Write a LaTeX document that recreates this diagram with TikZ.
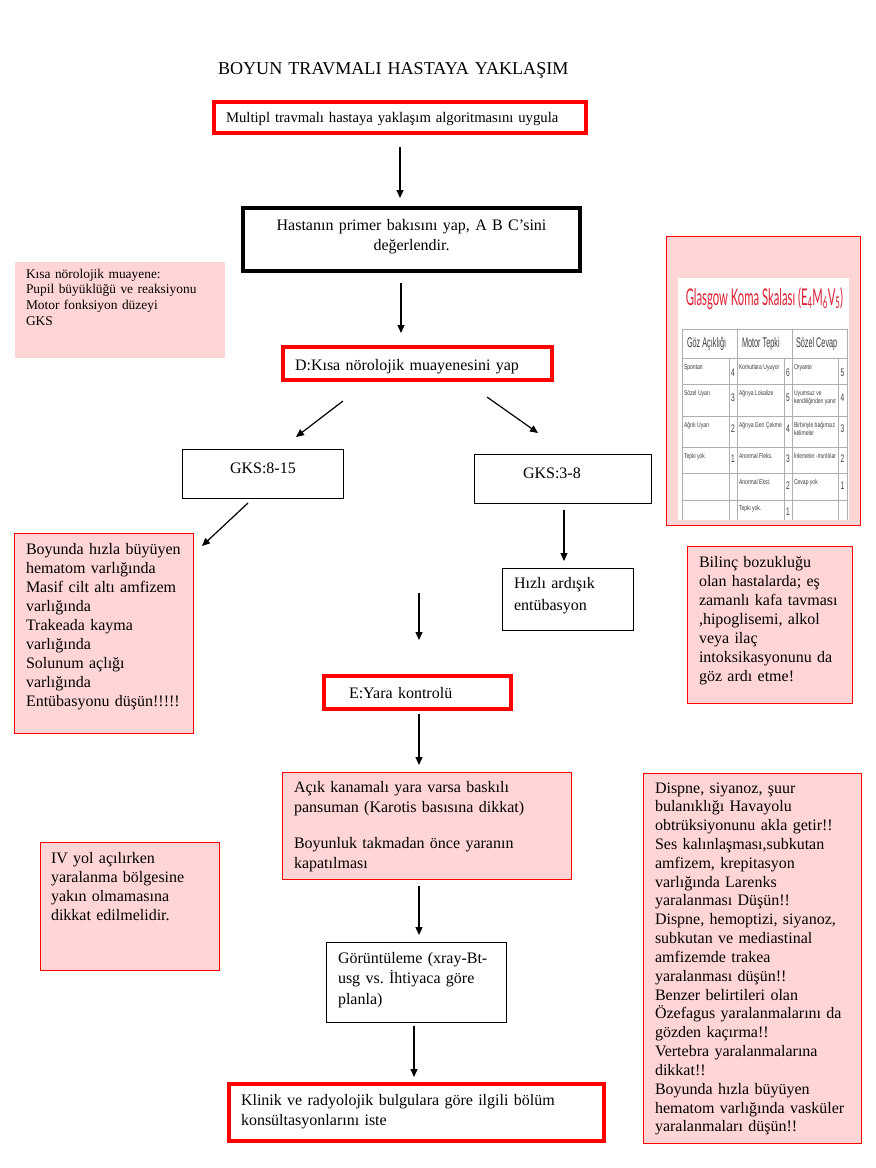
\documentclass[tikz,border=0pt]{standalone}
\usepackage{fontspec}
\setmainfont{Liberation Serif}
\newfontfamily\tabsans{Liberation Sans}
\newfontfamily\gtitlefont{Lato}
\usetikzlibrary{arrows.meta,calc}
\setlength\parindent{0pt}
\frenchspacing
\definecolor{pinkf}{RGB}{255,213,213}
\definecolor{boxred}{RGB}{255,0,0}
\definecolor{gline}{RGB}{175,175,175}
\definecolor{gtred}{RGB}{222,32,52}
\definecolor{tgray}{RGB}{60,60,60}
\newcommand\gcell[1]{\scalebox{0.72}[1]{\tabsans\fontsize{7}{8.5}\selectfont\begin{tabular}[t]{@{}l@{}}#1\end{tabular}}}
\newcommand\ghead[1]{\scalebox{0.52}[1]{\tabsans\fontsize{14}{14}\selectfont #1}}
\newcommand\gnum[1]{\scalebox{0.6}[1]{\tabsans\fontsize{11}{11}\selectfont #1}}
\begin{document}
\begin{tikzpicture}[x=1pt,y=-1pt,
  box/.style={rectangle, inner sep=0pt, outer sep=0pt},
  redthick/.style={box, draw=boxred, line width=4pt},
  blackthick/.style={box, draw=black, line width=4pt},
  thinbox/.style={box, draw=black, line width=1pt},
  pinkbox/.style={box, fill=pinkf, draw=boxred, line width=1pt},
  pinkplain/.style={box, fill=pinkf},
  txt/.style={inner sep=0pt, outer sep=0pt, anchor=base west, align=left, text width=380pt, font=\fontsize{16}{19}\selectfont},
  gt/.style={inner sep=0pt, outer sep=0pt, anchor=base west, text=tgray},
  gn/.style={inner sep=0pt, outer sep=0pt, anchor=center, text=tgray},
  arr/.style={-{Triangle[length=8pt,width=7pt]}, line width=1.2pt},
  gl/.style={draw=gline, line width=0.8pt}]
\useasboundingbox (0,0) rectangle (876,1168);
\fill[white] (0,0) rectangle (876,1168);

% title
\node[txt, text width=400pt, font=\fontsize{18.1}{20}\selectfont] (title) at (218,74) {BOYUN TRAVMALI HASTAYA YAKLAŞIM};

% main boxes
\node[redthick, minimum width=372pt, minimum height=31pt] (b1) at (400,117.5) {};
\node[txt, font=\fontsize{14.7}{18}\selectfont] (t1) at (226,122) {Multipl travmalı hastaya yaklaşım algoritmasını uygula};

\node[blackthick, minimum width=337pt, minimum height=63pt] (b2) at (411.5,239.5) {};
\node[txt, anchor=base, align=center, text width=337pt, font=\fontsize{16}{20}\selectfont] (t2) at (411.5,230) {Hastanın primer bakısını yap, A B C’sini\\ değerlendir.};

\node[pinkplain, minimum width=210pt, minimum height=96pt] (pk1) at (120,310) {};
\node[txt, font=\fontsize{13.4}{15.7}\selectfont] (tpk1) at (26,278) {Kısa nörolojik muayene:\\ Pupil büyüklüğü ve reaksiyonu\\ Motor fonksiyon düzeyi\\ GKS};

\node[redthick, minimum width=269pt, minimum height=33pt] (D) at (417.5,363.5) {};
\node[txt] (tD) at (295,370) {D:Kısa nörolojik muayenesini yap};

\node[thinbox, minimum width=161pt, minimum height=49pt] (g8) at (262.5,473.5) {};
\node[txt] (tg8) at (230,473) {GKS:8-15};

\node[thinbox, minimum width=177pt, minimum height=49pt] (g3) at (562.5,478.5) {};
\node[txt] (tg3) at (523,478) {GKS:3-8};

% Glasgow box
\node[pinkbox, minimum width=194pt, minimum height=289pt] (gcs) at (763,380.5) {};
\node[box, fill=white, minimum width=171pt, minimum height=242pt] (gimg) at (763.5,399) {};
\node[inner sep=0pt, anchor=base, text=gtred] (gtitle) at (764.5,305) {\scalebox{0.49}[1]{\gtitlefont\fontsize{23}{23}\selectfont Glasgow Koma Skalası (E\textsubscript{4}M\textsubscript{6}V\textsubscript{5})}};
\foreach \yy in {329,358,384,416,447,473,500} {\draw[gl] (682,\yy) -- (847,\yy);}
\foreach \xx in {682,737,792,847} {\draw[gl] (\xx,329) -- (\xx,520);}
\foreach \xx in {729,784,838} {\draw[gl] (\xx,358) -- (\xx,520);}
\node[gt] (h1) at (687,347) {\ghead{Göz Açıklığı}};
\node[gt] (h2) at (742,347) {\ghead{Motor Tepki}};
\node[gt] (h3) at (796,347) {\ghead{Sözel Cevap}};
% row 1
\node[gt] (c11) at (684,369) {\gcell{Spontan}};
\node[gt] (c12) at (739,369) {\gcell{Komutlara Uyuyor}};
\node[gt] (c13) at (794,369) {\gcell{Oryante}};
\node[gn] (n11) at (733,373) {\gnum{4}};
\node[gn] (n12) at (788,373) {\gnum{6}};
\node[gn] (n13) at (842.5,373) {\gnum{5}};
% row 2
\node[gt] (c21) at (684,395) {\gcell{Sözel Uyarı}};
\node[gt] (c22) at (739,395) {\gcell{Ağrıya Lokalize}};
\node[gt] (c23) at (794,395) {\gcell{Uyumsuz ve\\ kendiliğinden yanıt}};
\node[gn] (n21) at (733,398) {\gnum{3}};
\node[gn] (n22) at (788,398) {\gnum{5}};
\node[gn] (n23) at (842.5,398) {\gnum{4}};
% row 3
\node[gt] (c31) at (684,427) {\gcell{Ağrılı Uyarı}};
\node[gt] (c32) at (739,427) {\gcell{Ağrıya Geri Çekme}};
\node[gt] (c33) at (794,427) {\gcell{Birbiriyle bağımsız\\ kelimeler}};
\node[gn] (n31) at (733,429) {\gnum{2}};
\node[gn] (n32) at (788,429) {\gnum{4}};
\node[gn] (n33) at (842.5,429) {\gnum{3}};
% row 4
\node[gt] (c41) at (684,458) {\gcell{Tepki yok}};
\node[gt] (c42) at (739,458) {\gcell{Anormal Fleks.}};
\node[gt] (c43) at (794,458) {\gcell{İnlemeler -mırıltılar}};
\node[gn] (n41) at (733,459) {\gnum{1}};
\node[gn] (n42) at (788,459) {\gnum{3}};
\node[gn] (n43) at (842.5,459) {\gnum{2}};
% row 5
\node[gt] (c52) at (739,484) {\gcell{Anormal Ekst.}};
\node[gt] (c53) at (794,484) {\gcell{Cevap yok}};
\node[gn] (n52) at (788,486) {\gnum{2}};
\node[gn] (n53) at (842.5,486) {\gnum{1}};
% row 6
\node[gt] (c62) at (739,510) {\gcell{Tepki yok.}};
\node[gn] (n62) at (788,512) {\gnum{1}};

% left pink
\node[pinkbox, minimum width=179pt, minimum height=200pt] (pk2) at (103.5,633) {};
\node[txt] (tpk2) at (26,554) {Boyunda hızla büyüyen\\ hematom varlığında\\ Masif cilt altı amfizem\\ varlığında\\ Trakeada kayma\\ varlığında\\ Solunum açlığı\\ varlığında\\ Entübasyonu düşün!!!!!};

\node[thinbox, minimum width=131pt, minimum height=62pt] (hz) at (567.5,599) {};
\node[txt, font=\fontsize{16}{22}\selectfont] (thz) at (514,588) {Hızlı ardışık\\ entübasyon};

\node[pinkbox, minimum width=165pt, minimum height=157pt] (pk3) at (769.5,624.5) {};
\node[txt] (tpk3) at (699,567) {Bilinç bozukluğu\\ olan hastalarda; eş\\ zamanlı kafa tavması\\ ,hipoglisemi, alkol\\ veya ilaç\\ intoksikasyonunu da\\ göz ardı etme!};

\node[redthick, minimum width=187pt, minimum height=33pt] (E) at (417.5,692.5) {};
\node[txt] (tE) at (349,698) {E:Yara kontrolü};

\node[pinkbox, minimum width=289pt, minimum height=107pt] (pk4) at (426.5,825.5) {};
\node[txt, font=\fontsize{16}{20}\selectfont] (tpk4) at (294,792) {Açık kanamalı yara varsa baskılı\\ pansuman (Karotis basısına dikkat)\\[16pt] Boyunluk takmadan önce yaranın\\ kapatılması};

\node[pinkbox, minimum width=179pt, minimum height=128pt] (pk5) at (129.5,906) {};
\node[txt, font=\fontsize{16}{19.3}\selectfont] (tpk5) at (51,863) {IV yol açılırken\\ yaralanma bölgesine\\ yakın olmamasına\\ dikkat edilmelidir.};

\node[thinbox, minimum width=180pt, minimum height=80pt] (gr) at (416,982) {};
\node[txt, font=\fontsize{16}{20.5}\selectfont] (tgr) at (338,963) {Görüntüleme (xray-Bt-\\ usg vs. İhtiyaca göre\\ planla)};

\node[redthick, minimum width=375pt, minimum height=57pt] (kl) at (416.5,1112.5) {};
\node[txt, font=\fontsize{16}{20}\selectfont] (tkl) at (241,1105) {Klinik ve radyolojik bulgulara göre ilgili bölüm\\ konsültasyonlarını iste};

\node[pinkbox, minimum width=218pt, minimum height=370pt] (pk6) at (752,958) {};
\node[txt, font=\fontsize{16}{18.83}\selectfont] (tpk6) at (655,793) {Dispne, siyanoz, şuur\\ bulanıklığı Havayolu\\ obtrüksiyonunu akla getir!!\\ Ses kalınlaşması,subkutan\\ amfizem, krepitasyon\\ varlığında Larenks\\ yaralanması Düşün!!\\ Dispne, hemoptizi, siyanoz,\\ subkutan ve mediastinal\\ amfizemde trakea\\ yaralanması düşün!!\\ Benzer belirtileri olan\\ Özefagus yaralanmalarını da\\ gözden kaçırma!!\\ Vertebra yaralanmalarına\\ dikkat!!\\ Boyunda hızla büyüyen\\ hematom varlığında vasküler\\ yaralanmaları düşün!!};

% connectors
\draw[arr, shorten <=14pt, shorten >=10pt] (b1.south) -- (b1.south |- b2.north);
\draw[arr, shorten <=12pt, shorten >=14pt] ([xshift=-10.5pt]b2.south) -- ([xshift=-10.5pt]b2.south |- D.north);
\draw[arr] ($(D.south)+(-74.5,21)$) -- ($(g8.north)+(33.5,-12)$);
\draw[arr] ($(D.south)+(69.5,17)$) -- ($(g3.north)+(-24.5,-21)$);
\draw[arr] ($(g8.south)+(-14.5,5)$) -- ($(pk2.north east)+(9,13)$);
\draw[arr, shorten <=7pt, shorten >=7pt] ([xshift=1.5pt]g3.south) -- ([xshift=1.5pt]g3.south |- hz.north);
\coordinate (free7) at (419,593);
\draw[arr, shorten >=36pt] (free7) -- (free7 |- E.north);
\draw[arr, shorten <=5pt, shorten >=7pt] ([xshift=1.5pt]E.south) -- ([xshift=1.5pt]E.south |- pk4.north);
\draw[arr, shorten <=7pt, shorten >=7pt] ([xshift=1.5pt]E.south |- pk4.south) -- ([xshift=1.5pt]E.south |- gr.north);
\draw[arr, shorten <=4pt, shorten >=7pt] ([xshift=-2pt]gr.south) -- ([xshift=-2pt]gr.south |- kl.north);
\end{tikzpicture}
\end{document}
